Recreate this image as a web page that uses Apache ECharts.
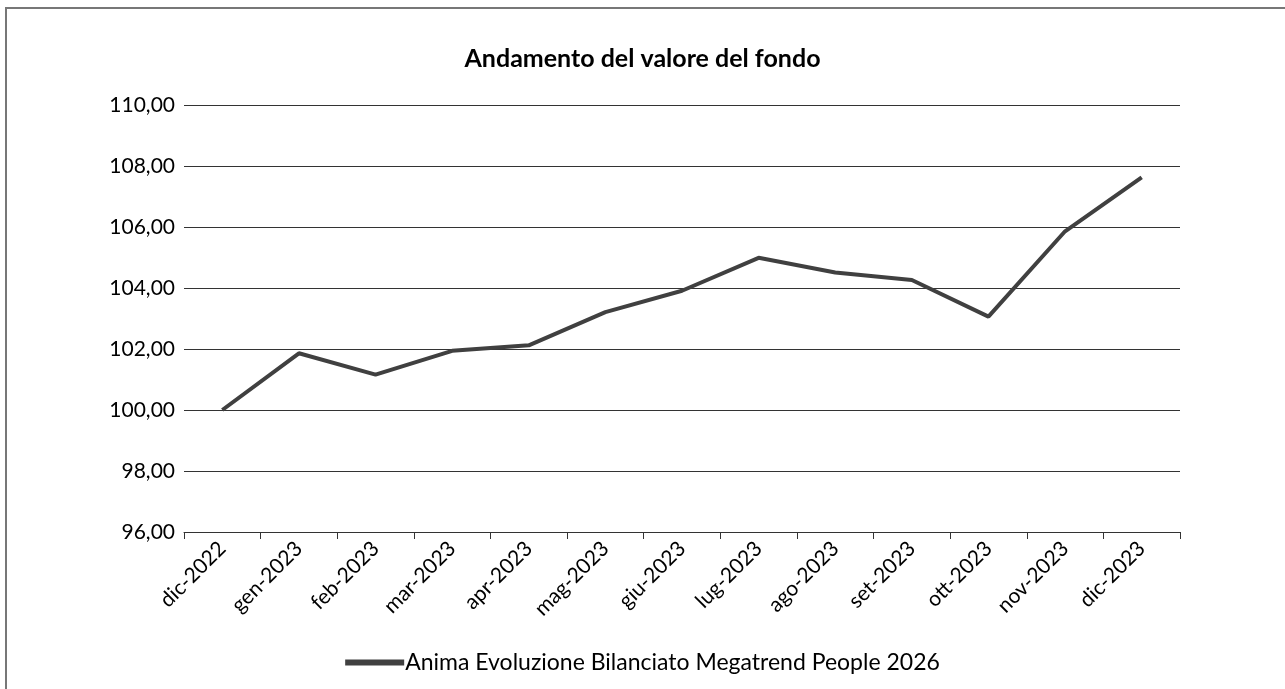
<!DOCTYPE html>
<html lang="it">
<head>
  <meta charset="UTF-8">
  <script src="https://cdn.jsdelivr.net/npm/echarts@6/dist/echarts.min.js"></script>
  <title>Andamento del valore del fondo</title>
  <style>
    html, body { margin: 0; padding: 0; background: #fff; }
    #frame {
      position: absolute; left: 5px; top: 7px; right: 0; bottom: 0;
      border-top: 2px solid #777; border-left: 2px solid #777;
    }
    #chart { position: absolute; left: 0; top: 0; width: 1285px; height: 689px; }
  </style>
</head>
<body>
  <div id="frame"></div>
  <div id="chart"></div>
  <script>
    // dati
    const mesi = ['dic-2022', 'gen-2023', 'feb-2023', 'mar-2023', 'apr-2023', 'mag-2023', 'giu-2023',
      'lug-2023', 'ago-2023', 'set-2023', 'ott-2023', 'nov-2023', 'dic-2023'];
    const valori = [100.00, 101.86, 101.16, 101.94, 102.12, 103.21, 103.91,
      104.99, 104.51, 104.26, 103.06, 105.86, 107.63];
    const nomeFondo = 'Anima Evoluzione Bilanciato Megatrend People 2026';

    const chart = echarts.init(document.getElementById('chart'));
    chart.setOption({
      animation: false,
      textStyle: { fontFamily: 'Lato' },
      title: {
        text: 'Andamento del valore del fondo',
        left: 'center', top: 41,
        textStyle: { fontFamily: 'Lato', fontSize: 25, fontWeight: 'bold', color: '#000' }
      },
      legend: {
        bottom: 10, left: 'center',
        icon: 'rect', itemWidth: 59, itemHeight: 6, itemGap: 10,
        textStyle: { fontFamily: 'Lato', fontSize: 23, color: '#000', padding: [0, 0, 0, -4] },
        data: [nomeFondo]
      },
      grid: { left: 184, right: 105, top: 105, bottom: 157 },
      xAxis: {
        type: 'category',
        data: mesi,
        boundaryGap: true,
        axisLine: { lineStyle: { color: '#333', width: 1 } },
        axisTick: { show: true, length: 7, lineStyle: { color: '#333' } },
        axisLabel: { rotate: 45, fontFamily: 'Lato', fontSize: 21, color: '#000', margin: 13 }
      },
      yAxis: {
        type: 'value',
        min: 96, max: 110, interval: 2,
        axisLine: { show: false },
        axisTick: { show: false },
        splitLine: { lineStyle: { color: '#333', width: 1 } },
        axisLabel: {
          fontFamily: 'Lato', fontSize: 21, color: '#000', margin: 9,
          formatter: v => v.toFixed(2).replace('.', ',')
        }
      },
      series: [{
        name: nomeFondo,
        type: 'line',
        data: valori,
        symbol: 'none',
        color: '#404040',
        lineStyle: { color: '#404040', width: 4 }
      }]
    });
  </script>
</body>
</html>
